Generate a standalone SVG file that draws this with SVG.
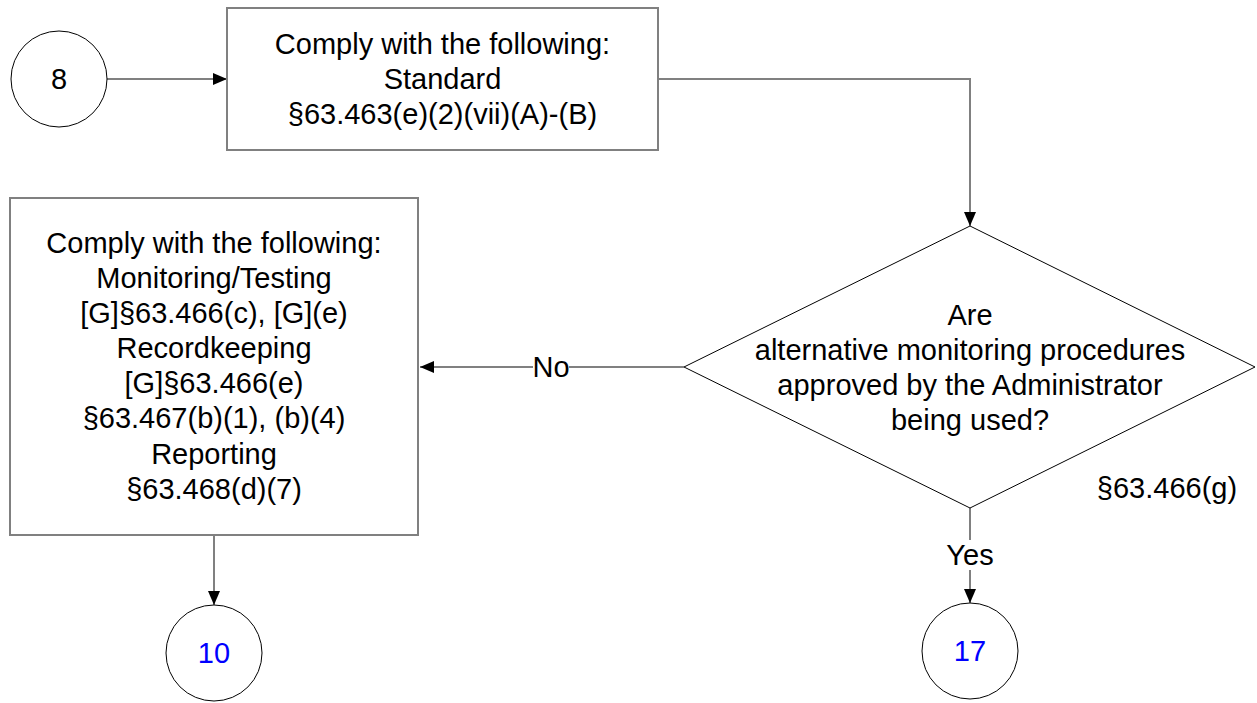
<svg xmlns="http://www.w3.org/2000/svg" width="1257" height="703" viewBox="0 0 1257 703">
  <style>
    text { font-family: "Liberation Sans", Arial, sans-serif; font-size: 29px; fill: #000; text-anchor: middle; }
    .box { fill: #fff; stroke: #808080; stroke-width: 2; }
    .dec { fill: #fff; stroke: #000; stroke-width: 1; }
    .conn { fill: none; stroke: #808080; stroke-width: 2; }
    .blue { fill: #0000ff; }
    .lbl { fill: #fff; stroke: none; }
  </style>
  <defs>
    <marker id="arr" markerWidth="14" markerHeight="12" refX="14" refY="6" orient="auto" markerUnits="userSpaceOnUse">
      <path d="M0,0 L14,6 L0,12 z" fill="#000"/>
    </marker>
  </defs>

  <g id="connectors">
    <line class="conn" x1="107" y1="79" x2="227" y2="79" marker-end="url(#arr)"/>
    <polyline class="conn" points="658,79 970,79 970,226" marker-end="url(#arr)"/>
    <line class="conn" x1="684" y1="367" x2="420" y2="367" marker-end="url(#arr)"/>
    <line class="conn" x1="970" y1="508" x2="970" y2="603" marker-end="url(#arr)"/>
    <line class="conn" x1="214" y1="535" x2="214" y2="605" marker-end="url(#arr)"/>
    <rect class="lbl" x="533" y="352" width="36" height="30"/>
    <text x="551" y="377">No</text>
    <rect class="lbl" x="946" y="540" width="48" height="30"/>
    <text x="970" y="565">Yes</text>
  </g>

  <g id="node-8">
    <circle class="dec" cx="59" cy="79" r="48"/>
    <text x="59" y="89">8</text>
  </g>

  <g id="node-standard">
    <rect class="box" x="227" y="8" width="431" height="142"/>
    <text x="442.5" y="54">Comply with the following:</text>
    <text x="442.5" y="89">Standard</text>
    <text x="442.5" y="124">§63.463(e)(2)(vii)(A)-(B)</text>
  </g>

  <g id="node-decision">
    <polygon class="dec" points="970,226 1255,367 970,508 684,367"/>
    <text x="970" y="325">Are</text>
    <text x="970" y="360">alternative monitoring procedures</text>
    <text x="970" y="395">approved by the Administrator</text>
    <text x="970" y="430">being used?</text>
    <text x="1167" y="498">§63.466(g)</text>
  </g>

  <g id="node-comply">
    <rect class="box" x="10" y="198" width="408" height="337"/>
    <text x="214" y="253">Comply with the following:</text>
    <text x="214" y="288">Monitoring/Testing</text>
    <text x="214" y="323">[G]§63.466(c), [G](e)</text>
    <text x="214" y="358">Recordkeeping</text>
    <text x="214" y="393">[G]§63.466(e)</text>
    <text x="214" y="428">§63.467(b)(1), (b)(4)</text>
    <text x="214" y="464">Reporting</text>
    <text x="214" y="499">§63.468(d)(7)</text>
  </g>

  <g id="node-10">
    <circle class="dec" cx="214" cy="653" r="48"/>
    <text class="blue" x="214" y="663">10</text>
  </g>

  <g id="node-17">
    <circle class="dec" cx="970" cy="651" r="48"/>
    <text class="blue" x="970" y="661">17</text>
  </g>
</svg>
